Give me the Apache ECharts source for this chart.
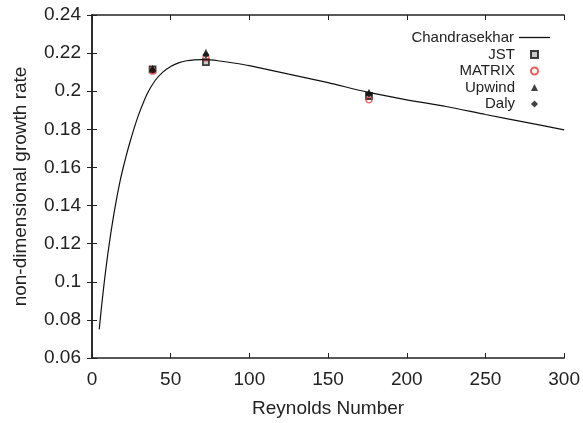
<!DOCTYPE html>
<html>
<head>
<meta charset="utf-8">
<script src="https://cdn.jsdelivr.net/npm/echarts@6/dist/echarts.min.js"></script>
<style>html,body{margin:0;padding:0;background:#fff}#c{width:583px;height:423px}</style>
</head>
<body>
<div id="c"></div>
<script>
// Chandrasekhar curve
const chandraRe  = [4.6, 6, 8, 10, 12, 14, 16, 18, 20, 22.5, 25, 27.5, 30, 35, 40, 45, 50, 55, 60, 65, 70, 75, 80, 90, 100, 125, 150, 175, 200, 225, 250, 275, 300];
const chandraVal = [0.075, 0.0865, 0.1013, 0.1143, 0.1258, 0.136, 0.1452, 0.1535, 0.1605, 0.1685, 0.1758, 0.1825, 0.1885, 0.1985, 0.2055, 0.21, 0.213, 0.2149, 0.216, 0.2165, 0.2166, 0.2164, 0.216, 0.2148, 0.2134, 0.209, 0.2045, 0.1995, 0.1955, 0.192, 0.1878, 0.1838, 0.1797];
// simulation points
const simRe     = [38.5, 72.4, 176];
const jstVal    = [0.2115, 0.2153, 0.1975];
const matrixVal = [0.2105, 0.2175, 0.1955];
const upwindVal = [0.212, 0.2205, 0.1995];
const dalyVal   = [0.211, 0.219, 0.1985];
const xTicks = [0, 50, 100, 150, 200, 250, 300];
const yTicks = [0.06, 0.08, 0.1, 0.12, 0.14, 0.16, 0.18, 0.2, 0.22, 0.24];

const zip = (xs, ys) => xs.map((x, i) => [x, ys[i]]);
const font = 'Liberation Sans, Arial, Helvetica, sans-serif';
const axCol = '#222';
const fmtY = v => String(Math.round(v * 100) / 100);

const chart = echarts.init(document.getElementById('c'));
const baseX = {
  type: 'value', min: xTicks[0], max: xTicks[xTicks.length - 1], interval: 50,
  splitLine: { show: false },
  axisLine: { show: true, lineStyle: { color: axCol, width: 1.5 } },
  axisTick: { show: true, inside: true, length: 5, lineStyle: { color: axCol, width: 1 } }
};
const baseY = {
  type: 'value', min: yTicks[0], max: yTicks[yTicks.length - 1], interval: 0.02,
  splitLine: { show: false },
  axisLine: { show: true, lineStyle: { color: axCol, width: 1.5 } },
  axisTick: { show: true, inside: true, length: 5, lineStyle: { color: axCol, width: 1 } }
};
const legText = { fontFamily: font, fontSize: 15, color: '#222' };
chart.setOption({
  animation: false,
  backgroundColor: '#fff',
  textStyle: { fontFamily: font },
  grid: { left: 92, right: 14, top: 15, bottom: 65 },
  legend: [
    {
      orient: 'vertical', right: 28, top: 25, align: 'right',
      itemWidth: 31, itemHeight: 1.3,
      data: [{ name: 'Chandrasekhar', icon: 'rect' }],
      textStyle: Object.assign({ lineHeight: 15 }, legText)
    },
    {
      orient: 'vertical', right: 39, top: 42, align: 'right',
      itemWidth: 7, itemHeight: 7, itemGap: 1.5,
      data: ['JST', 'MATRIX', 'Upwind', 'Daly'],
      formatter: '{a|{name}}',
      textStyle: Object.assign({ lineHeight: 15 }, legText, {
        rich: { a: Object.assign({ width: 100, align: 'right', lineHeight: 15, padding: [0, 11, 0, 0] }, legText) } })
    }
  ],
  xAxis: [
    Object.assign({}, baseX, {
      position: 'bottom', name: 'Reynolds Number', nameLocation: 'middle', nameGap: 41,
      nameTextStyle: { fontFamily: font, fontSize: 19, color: '#222' },
      axisLabel: { fontFamily: font, fontSize: 19, color: '#222', margin: 12 }
    }),
    Object.assign({}, baseX, { position: 'top', axisLabel: { show: false } })
  ],
  yAxis: [
    Object.assign({}, baseY, {
      position: 'left', name: 'non-dimensional growth rate', nameLocation: 'middle', nameGap: 62,
      nameTextStyle: { fontFamily: font, fontSize: 19, color: '#222' },
      axisLabel: { fontFamily: font, fontSize: 19, color: '#222', margin: 11, formatter: fmtY }
    }),
    Object.assign({}, baseY, { position: 'right', axisLabel: { show: false } })
  ],
  series: [
    { name: 'Chandrasekhar', type: 'line', data: zip(chandraRe, chandraVal), smooth: 0.25,
      symbol: 'none', lineStyle: { color: '#111', width: 1.2 }, itemStyle: { color: '#111' } },
    { name: 'JST', type: 'scatter', data: zip(simRe, jstVal), symbol: 'rect', symbolSize: 6,
      itemStyle: { color: '#bbb', borderColor: '#111', borderWidth: 1.8 } },
    { name: 'MATRIX', type: 'scatter', data: zip(simRe, matrixVal), symbol: 'circle', symbolSize: 6,
      itemStyle: { color: 'rgba(255,255,255,0)', borderColor: '#e3342f', borderWidth: 1.2 } },
    { name: 'Upwind', type: 'scatter', data: zip(simRe, upwindVal), symbol: 'triangle', symbolSize: 7,
      itemStyle: { color: '#111' } },
    { name: 'Daly', type: 'scatter', data: zip(simRe, dalyVal), symbol: 'diamond', symbolSize: 7,
      itemStyle: { color: '#111' } }
  ]
});
</script>
</body>
</html>
